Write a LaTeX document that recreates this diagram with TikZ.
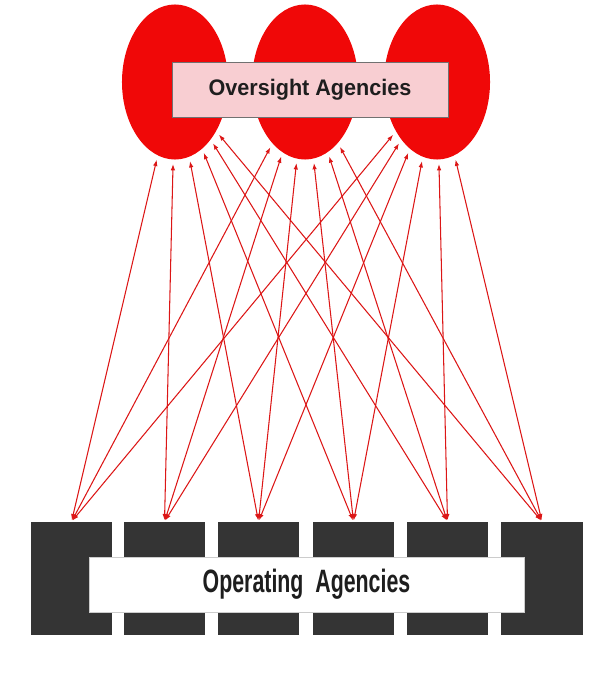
\documentclass[tikz,border=0pt]{standalone}
\usepackage{fontspec}
\setmainfont{Liberation Sans}
\usepackage{graphicx}
\usepackage{tikz}
\usetikzlibrary{arrows.meta,shapes.geometric}

\definecolor{agencyred}{RGB}{240,8,8}
\definecolor{linkred}{RGB}{220,22,22}
\definecolor{blockgray}{RGB}{52,52,52}
\definecolor{labelpink}{RGB}{248,206,210}
\definecolor{textgray}{RGB}{30,30,30}

\begin{document}
\begin{tikzpicture}[
    x=0.025cm, y=-0.025cm,
    oversight/.style={
        ellipse,
        fill=agencyred,
        minimum width=2.65cm,
        minimum height=3.875cm,
        inner sep=0pt
    },
    operating/.style={
        rectangle,
        fill=blockgray,
        minimum width=2.025cm,
        minimum height=2.825cm,
        inner sep=0pt
    },
    banner/.style={
        rectangle,
        minimum height=1.375cm,
        inner sep=0pt,
        text=textgray,
        font=\bfseries
    },
    link/.style={
        draw=linkred,
        line width=0.75pt,
        {Latex[length=4.5pt,width=3.2pt]}-{Latex[length=4.5pt,width=3.2pt]},
        shorten <=1pt,
        shorten >=3pt
    }
]
\useasboundingbox (0,0) rectangle (601,675);

% Oversight agencies
\node[oversight] (ov1) at (175,82) {};
\node[oversight] (ov2) at (305,82) {};
\node[oversight] (ov3) at (437,82) {};
\node[banner,fill=labelpink,draw=blockgray!70,minimum width=6.9cm] (ovlabel) at (310,89.5)
    {\scalebox{0.96}[1]{\fontsize{16}{19}\selectfont Oversight Agencies}};

% Operating agencies
\foreach \x [count=\j] in {71.5,164.5,258.5,353.5,447.5,542}
    \node[operating] (op\j) at (\x,578.5) {};
\node[banner,fill=white,draw=gray!40,minimum width=10.875cm] (oplabel) at (306.5,584.5)
    {\scalebox{0.66}[1]{\fontsize{23}{27}\selectfont Operating\ \ Agencies}};

% Links
\foreach \i in {1,2,3}
    \foreach \j in {1,...,6}
        \draw[link] (op\j.north) -- (ov\i);

\end{tikzpicture}
\end{document}
